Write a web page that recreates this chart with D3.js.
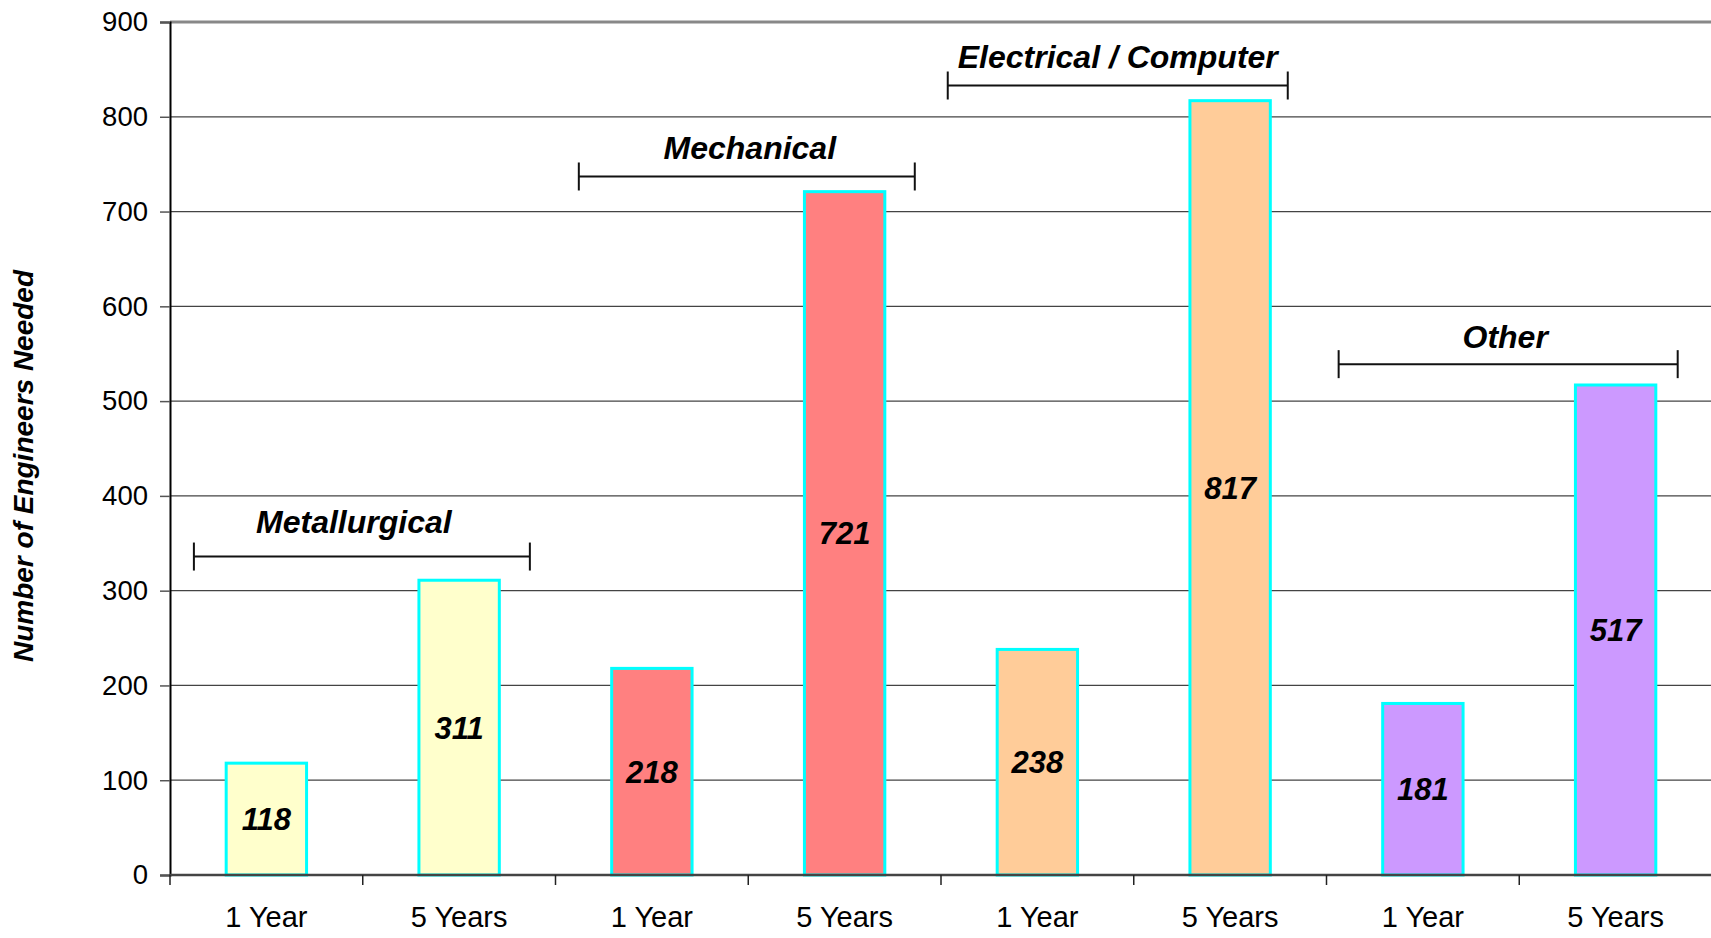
<!DOCTYPE html>
<html>
<head>
<meta charset="utf-8">
<script src="https://cdn.jsdelivr.net/npm/d3@7.9.0/dist/d3.min.js"></script>
<style>
  body { margin: 0; background: #fff; }
  svg { display: block; font-family: "Liberation Sans", Arial, sans-serif; }
</style>
</head>
<body>
<script>
// chart data
const periods = ["1 Year", "5 Years", "1 Year", "5 Years", "1 Year", "5 Years", "1 Year", "5 Years"];
const fields = ["Metallurgical", "Metallurgical", "Mechanical", "Mechanical",
                "Electrical / Computer", "Electrical / Computer", "Other", "Other"];
const engineers = [118, 311, 218, 721, 238, 817, 181, 517];
const yTicks = [0, 100, 200, 300, 400, 500, 600, 700, 800, 900];

// group brackets drawn above each pair of bars (span in category units, level in data units)
const groupNames = ["Metallurgical", "Mechanical", "Electrical / Computer", "Other"];
const bracketStart = [0.124, 2.121, 4.035, 6.063];
const bracketEnd = [1.867, 3.864, 5.799, 7.822];
const bracketLevel = [336, 737, 833, 539];

const fieldColor = {
    "Metallurgical": "#ffffcc",
    "Mechanical": "#ff8080",
    "Electrical / Computer": "#ffcc99",
    "Other": "#cc99ff"
};

const W = 1711, H = 938;
const plotLeft = 170, plotRight = 1712, plotTop = 22, plotBottom = 875;

const svg = d3.select("body").append("svg")
    .attr("width", W)
    .attr("height", H);

const y = d3.scaleLinear().domain([0, 900]).range([plotBottom, plotTop]);
const x = d3.scaleBand()
    .domain(d3.range(engineers.length))
    .range([plotLeft, plotRight])
    .paddingInner(0.583)
    .paddingOuter(0.2915);
// continuous position along the category axis (for ticks and brackets)
const xPos = d3.scaleLinear().domain([0, engineers.length]).range([plotLeft, plotRight]);

// gridlines
svg.append("g")
    .selectAll("line")
    .data(yTicks.filter(t => t > 0 && t < 900))
    .join("line")
    .attr("x1", plotLeft).attr("x2", W)
    .attr("y1", d => y(d)).attr("y2", d => y(d))
    .attr("stroke", "#444")
    .attr("stroke-width", 1.2);

// top border of plot area
svg.append("line")
    .attr("x1", plotLeft).attr("x2", W)
    .attr("y1", y(900)).attr("y2", y(900))
    .attr("stroke", "#888")
    .attr("stroke-width", 3);

// y axis
const yAxis = svg.append("g")
    .attr("transform", `translate(${plotLeft},0)`)
    .call(d3.axisLeft(y).tickValues(yTicks).tickSize(10).tickPadding(12));
yAxis.select(".domain").attr("stroke", "#000").attr("stroke-width", 2);
yAxis.selectAll(".tick line").attr("stroke", "#555").attr("stroke-width", 1.5);
yAxis.selectAll(".tick text")
    .attr("font-size", 27.5)
    .attr("font-family", "Liberation Sans, Arial, sans-serif")
    .attr("fill", "#000");

// bars
svg.append("g")
    .selectAll("rect")
    .data(engineers)
    .join("rect")
    .attr("x", (d, i) => x(i))
    .attr("y", d => y(d))
    .attr("width", x.bandwidth())
    .attr("height", d => y(0) - y(d))
    .attr("fill", (d, i) => fieldColor[fields[i]])
    .attr("stroke", "#00ffff")
    .attr("stroke-width", 3);

// value labels in the middle of the bars
svg.append("g")
    .selectAll("text")
    .data(engineers)
    .join("text")
    .attr("x", (d, i) => x(i) + x.bandwidth() / 2)
    .attr("y", d => (y(d) + y(0)) / 2)
    .attr("dy", "0.36em")
    .attr("text-anchor", "middle")
    .attr("font-size", 31)
    .attr("font-weight", "bold")
    .attr("font-style", "italic")
    .text(d => d);

// x axis line and category ticks at boundaries
svg.append("line")
    .attr("x1", plotLeft).attr("x2", W)
    .attr("y1", plotBottom).attr("y2", plotBottom)
    .attr("stroke", "#444")
    .attr("stroke-width", 2.5);
svg.append("g")
    .selectAll("line")
    .data(d3.range(engineers.length + 1))
    .join("line")
    .attr("x1", d => xPos(d)).attr("x2", d => xPos(d))
    .attr("y1", plotBottom).attr("y2", plotBottom + 10)
    .attr("stroke", "#222")
    .attr("stroke-width", 1.5);

svg.append("g")
    .selectAll("text")
    .data(periods)
    .join("text")
    .attr("x", (d, i) => x(i) + x.bandwidth() / 2)
    .attr("y", 927)
    .attr("text-anchor", "middle")
    .attr("font-size", 29)
    .text(d => d);

// y axis title
svg.append("text")
    .attr("transform", "translate(33,466) rotate(-90)")
    .attr("text-anchor", "middle")
    .attr("font-size", 28)
    .attr("font-weight", "bold")
    .attr("font-style", "italic")
    .text("Number of Engineers Needed");

// group brackets with labels
const labelGap = [24, 17, 18, 16];
const labelShift = [-8, 3, 0, -3];
const br = svg.append("g")
    .selectAll("g")
    .data(groupNames)
    .join("g");
br.append("line")
    .attr("x1", (d, i) => xPos(bracketStart[i]))
    .attr("x2", (d, i) => xPos(bracketEnd[i]))
    .attr("y1", (d, i) => y(bracketLevel[i]))
    .attr("y2", (d, i) => y(bracketLevel[i]))
    .attr("stroke", "#111").attr("stroke-width", 2);
[bracketStart, bracketEnd].forEach(ends => {
    br.append("line")
        .attr("x1", (d, i) => xPos(ends[i]))
        .attr("x2", (d, i) => xPos(ends[i]))
        .attr("y1", (d, i) => y(bracketLevel[i]) - 14)
        .attr("y2", (d, i) => y(bracketLevel[i]) + 14)
        .attr("stroke", "#111").attr("stroke-width", 2);
});
br.append("text")
    .attr("x", (d, i) => (xPos(bracketStart[i]) + xPos(bracketEnd[i])) / 2 + labelShift[i])
    .attr("y", (d, i) => y(bracketLevel[i]) - labelGap[i])
    .attr("text-anchor", "middle")
    .attr("font-size", 32)
    .attr("font-weight", "bold")
    .attr("font-style", "italic")
    .text(d => d);
</script>
</body>
</html>
